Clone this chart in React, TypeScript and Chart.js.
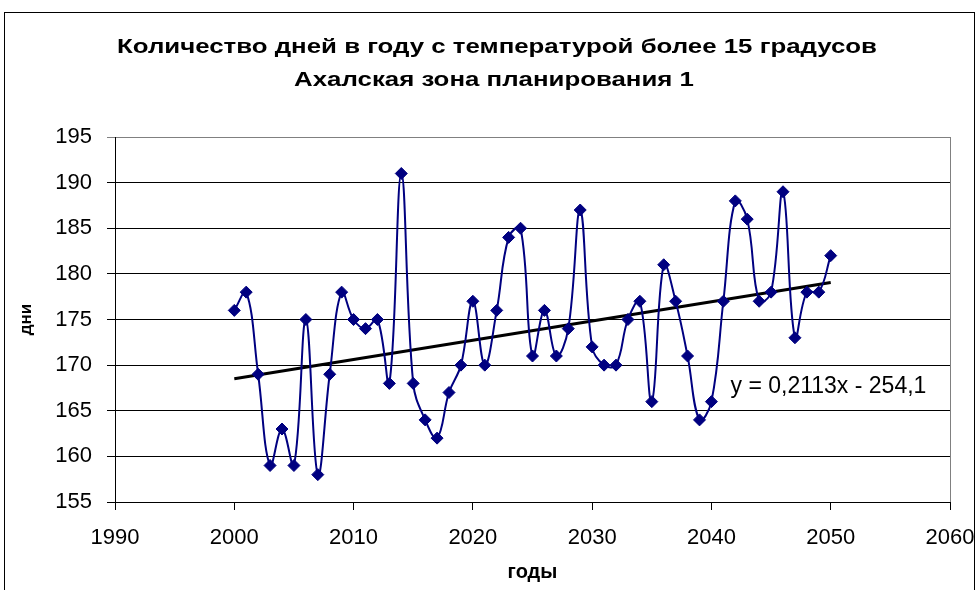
import React, { useEffect, useRef } from "react";
import { Chart, registerables } from "chart.js";

Chart.register(...registerables);

// ---- Data ----
const TITLE_LINES = [
  "Количество дней в году с температурой более 15 градусов",
  "Ахалская зона планирования 1",
];
const X_AXIS_TITLE = "годы";
const Y_AXIS_TITLE = "дни";

const years = [
  2000, 2001, 2002, 2003, 2004, 2005, 2006, 2007, 2008, 2009,
  2010, 2011, 2012, 2013, 2014, 2015, 2016, 2017, 2018, 2019,
  2020, 2021, 2022, 2023, 2024, 2025, 2026, 2027, 2028, 2029,
  2030, 2031, 2032, 2033, 2034, 2035, 2036, 2037, 2038, 2039,
  2040, 2041, 2042, 2043, 2044, 2045, 2046, 2047, 2048, 2049,
  2050,
];
const days = [
  176, 178, 169, 159, 163, 159, 175, 158, 169, 178,
  175, 174, 175, 168, 191, 168, 164, 162, 167, 170,
  177, 170, 176, 184, 185, 171, 176, 171, 174, 187,
  172, 170, 170, 175, 177, 166, 181, 177, 171, 164,
  166, 177, 188, 186, 177, 178, 189, 173, 178, 178,
  182,
];

const TREND_SLOPE = 0.2113;
const TREND_INTERCEPT = -254.1;
const TREND_LABEL = "y = 0,2113x - 254,1";
const trendYears = [2000, 2050];

const X_MIN = 1990;
const X_MAX = 2060;
const X_STEP = 10;
const Y_MIN = 155;
const Y_MAX = 195;
const Y_STEP = 5;

const FONT = '"Liberation Sans", Arial, sans-serif';

const decorPlugin = {
  id: "decor",
  beforeDraw(chart: any) {
    const { ctx, width } = chart;
    ctx.save();
    ctx.fillStyle = "#ffffff";
    ctx.fillRect(0, 0, width, chart.height);
    ctx.strokeStyle = "#000000";
    ctx.lineWidth = 1;
    ctx.strokeRect(4.5, 12.5, width - 8, 700);
    ctx.restore();
  },
  afterDraw(chart: any) {
    const { ctx, chartArea, scales } = chart;
    ctx.save();
    // right border of plot area
    ctx.strokeStyle = "#808080";
    ctx.lineWidth = 1;
    ctx.beginPath();
    ctx.moveTo(Math.round(chartArea.right) + 0.5, chartArea.top);
    ctx.lineTo(Math.round(chartArea.right) + 0.5, chartArea.bottom);
    ctx.stroke();

    // titles (widened as in the original)
    ctx.fillStyle = "#000000";
    ctx.textAlign = "center";
    ctx.textBaseline = "middle";
    ctx.font = `bold 21px ${FONT}`;
    const drawWide = (text: string, cx: number, cy: number, sx: number) => {
      ctx.save();
      ctx.translate(cx, cy);
      ctx.scale(sx, 1);
      ctx.fillText(text, 0, 0);
      ctx.restore();
    };
    drawWide(TITLE_LINES[0], 497, 47, 1.23);
    drawWide(TITLE_LINES[1], 494, 80, 1.23);

    // trendline equation
    ctx.font = `23px ${FONT}`;
    ctx.textAlign = "left";
    ctx.fillText(
      TREND_LABEL,
      scales.x.getPixelForValue(2041.6),
      scales.y.getPixelForValue(167.6)
    );
    ctx.restore();
  },
};

export default function App() {
  const canvasRef = useRef<HTMLCanvasElement | null>(null);

  useEffect(() => {
    const canvas = canvasRef.current;
    if (!canvas) return;
    const points = years.map((y, i) => ({ x: y, y: days[i] }));
    const trend = trendYears.map((y) => ({ x: y, y: TREND_SLOPE * y + TREND_INTERCEPT }));

    const chart = new Chart(canvas, {
      type: "line",
      data: {
        datasets: [
          {
            label: "дни",
            data: points,
            borderColor: "#000080",
            backgroundColor: "#000080",
            borderWidth: 2,
            tension: 0.4,
            pointStyle: "rectRot",
            pointRadius: 6,
            pointBackgroundColor: "#000080",
            pointBorderColor: "#000080",
            pointBorderWidth: 1,
            fill: false,
          },
          {
            label: "trend",
            data: trend,
            borderColor: "#000000",
            borderWidth: 3,
            pointRadius: 0,
            tension: 0,
            fill: false,
          },
        ],
      },
      options: {
        responsive: false,
        animation: false,
        layout: { padding: { left: 8, top: 137, right: 0, bottom: 0 } },
        plugins: {
          legend: { display: false },
          tooltip: { enabled: false },
          title: { display: false },
        },
        scales: {
          x: {
            type: "linear",
            min: X_MIN,
            max: X_MAX,
            ticks: {
              stepSize: X_STEP,
              autoSkip: false,
              maxRotation: 0,
              color: "#000000",
              padding: 15,
              font: { family: FONT, size: 22 },
              callback: (v: any) => String(v),
            },
            grid: {
              drawOnChartArea: false,
              color: "#000000",
              tickLength: 8,
            },
            border: { color: "#000000", width: 1 },
            title: {
              display: true,
              text: X_AXIS_TITLE,
              color: "#000000",
              font: { family: FONT, size: 20, weight: "bold" },
              padding: { top: 0, bottom: 6 },
            },
            afterFit: (scale: any) => {
              scale.height = 88;
              scale.paddingRight = 28;
            },
          },
          y: {
            min: Y_MIN,
            max: Y_MAX,
            ticks: {
              stepSize: Y_STEP,
              color: "#000000",
              padding: 15,
              font: { family: FONT, size: 22 },
            },
            grid: {
              color: (c: any) => (c.tick && c.tick.value === Y_MAX ? "#808080" : "#000000"),
              tickLength: 8,
            },
            border: { color: "#000000", width: 1 },
            title: {
              display: true,
              text: Y_AXIS_TITLE,
              color: "#000000",
              font: { family: FONT, size: 17, weight: "bold" },
              padding: { top: 8, bottom: 0 },
            },
            afterFit: (scale: any) => {
              scale.width = 107;
            },
          },
        },
      },
      plugins: [decorPlugin],
    });
    return () => chart.destroy();
  }, []);

  return (
    <div style={{ position: "fixed", left: 0, top: 0, width: 978, height: 590, background: "#fff" }}>
      <canvas ref={canvasRef} width={978} height={590} style={{ display: "block" }} />
    </div>
  );
}
